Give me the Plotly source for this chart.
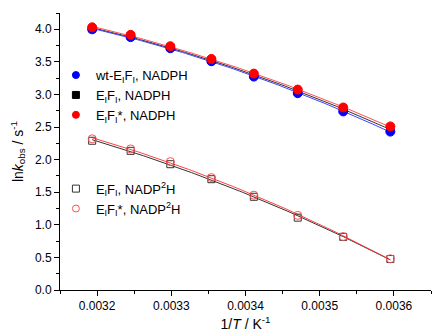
import numpy as np
import plotly.graph_objects as go

# Temperatures (deg C) -> 1/T
temps_c = [40, 35, 30, 25, 20, 15, 10, 5]
inv_T = [1.0 / (t + 273.15) for t in temps_c]

wt_nadph = [4.00, 3.88, 3.71, 3.51, 3.275, 3.02, 2.74, 2.43]
eifi_nadph = [4.01, 3.895, 3.725, 3.525, 3.295, 3.045, 2.77, 2.47]
eifistar_nadph = [4.03, 3.915, 3.74, 3.545, 3.32, 3.075, 2.80, 2.51]
eifi_nadp2h = [2.29, 2.135, 1.93, 1.70, 1.43, 1.11, 0.815, 0.475]
eifistar_nadp2h = [2.32, 2.165, 1.97, 1.725, 1.455, 1.145, 0.82, 0.48]

names = [
    "wt-E<sub>I</sub>F<sub>I</sub>, NADPH",
    "E<sub>I</sub>F<sub>I</sub>, NADPH",
    "E<sub>I</sub>F<sub>I</sub>*, NADPH",
    "E<sub>I</sub>F<sub>I</sub>, NADP<sup>2</sup>H",
    "E<sub>I</sub>F<sub>I</sub>*, NADP<sup>2</sup>H",
]

series = [
    dict(y=eifi_nadph, color="#000000", line="#333333", symbol="square", size=7, legend="legend", name=names[1]),
    dict(y=wt_nadph, color="#0000FF", line="#4040FF", symbol="circle", size=9, legend="legend", name=names[0]),
    dict(y=eifistar_nadph, color="#FF0000", line="#FF5050", symbol="circle", size=9, legend="legend", name=names[2]),
    dict(y=eifi_nadp2h, color="#333333", line="#333333", symbol="square-open", size=7, legend="legend2", name=names[3]),
    dict(y=eifistar_nadp2h, color="#FF5050", line="#FF4040", symbol="circle-open", size=8, legend="legend2", name=names[4]),
]

fig = go.Figure()
x = np.array(inv_T)
xf = np.linspace(x.min(), x.max(), 100)
for s in series:
    y = np.array(s["y"])
    coef = np.polyfit(x, y, 2)
    fig.add_trace(go.Scatter(x=xf, y=np.polyval(coef, xf), mode="lines",
                             line=dict(color=s["line"], width=1), showlegend=False, hoverinfo="skip"))
for s in series:
    fig.add_trace(go.Scatter(x=x, y=s["y"], mode="markers", showlegend=False,
                             marker=dict(symbol=s["symbol"], size=s["size"], color=s["color"],
                                         line=dict(width=1, color=s["color"]))))

# legend entries in the order shown
legend_order = [series[1], series[0], series[2], series[3], series[4]]
for s in legend_order:
    fig.add_trace(go.Scatter(x=[None], y=[None], mode="markers", name=s["name"], legend=s["legend"],
                             marker=dict(symbol=s["symbol"], size=7, color=s["color"],
                                         line=dict(width=1, color=s["color"]))))

font = "Liberation Sans, Arial, sans-serif"
axis_common = dict(showline=True, linecolor="black", linewidth=1, ticks="outside", ticklen=5,
                   tickcolor="black", showgrid=False, zeroline=False, mirror=False, automargin=False,
                   tickfont=dict(family=font, size=12, color="black"))
fig.update_layout(
    width=433, height=336,
    margin=dict(l=60, r=2, t=13, b=46),
    paper_bgcolor="white", plot_bgcolor="white",
    font=dict(family=font, size=12, color="black"),
    xaxis=dict(range=[0.00315, 0.00365], tickvals=[0.0032, 0.0033, 0.0034, 0.0035, 0.0036],
               ticktext=["0.0032", "0.0033", "0.0034", "0.0035", "0.0036"],
               minor=dict(dtick=0.00005, tick0=0.00315, ticks="outside", ticklen=3, tickcolor="black"),
               title=dict(text="1/<i>T</i> / K<sup>-1</sup>", font=dict(size=14), standoff=6),
               **axis_common),
    yaxis=dict(range=[0, 4.25], dtick=0.5, tickformat=".1f",
               minor=dict(dtick=0.25, ticks="outside", ticklen=3, tickcolor="black"),
               title=dict(text="ln<i>k</i><sub>obs</sub> / s<sup>-1</sup>", font=dict(size=14), standoff=8),
               **axis_common),
    legend=dict(x=-0.011, y=0.83, xanchor="left", yanchor="top", bgcolor="rgba(0,0,0,0)",
                font=dict(size=13), tracegroupgap=0),
    legend2=dict(x=-0.011, y=0.42, xanchor="left", yanchor="top", bgcolor="rgba(0,0,0,0)",
                 font=dict(size=13), tracegroupgap=0),
)
fig.write_html("out.html", config={"displayModeBar": False},
               post_script="document.body.style.margin='0';document.body.style.overflow='hidden';")
